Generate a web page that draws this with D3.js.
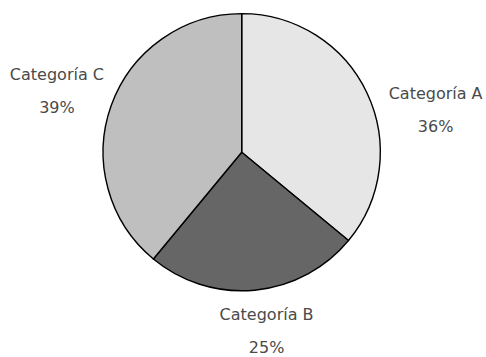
<!DOCTYPE html>
<html>
<head>
<meta charset="utf-8">
<script src="https://cdn.jsdelivr.net/npm/d3@7"></script>
<style>
  html, body { margin: 0; padding: 0; background: #ffffff; }
  svg { display: block; }
</style>
</head>
<body>
<script>
// ---- Data ----
const categories = ["Categoría A", "Categoría B", "Categoría C"];
const values = [36, 25, 39];
const percentLabels = ["36%", "25%", "39%"];
const colors = ["#e6e6e6", "#666666", "#bfbfbf"];

// ---- Layout ----
const width = 486, height = 357;
const cx = 241.7, cy = 152.2, radius = 138.6;
const labelRadius = 190;
const lineGap = 33;
// label placement adjustments (layout, in px)
const labelNudge = [[22, 38], [7, -11], [-6, 3]];

const svg = d3.select("body").append("svg")
  .attr("width", width).attr("height", height);

const g = svg.append("g").attr("transform", `translate(${cx},${cy})`);

const pie = d3.pie().sort(null).value(d => d.value);
const data = categories.map((c, i) => ({ cat: c, value: values[i], pct: percentLabels[i], color: colors[i], i }));
const arcs = pie(data);

const arc = d3.arc().innerRadius(0).outerRadius(radius);
const labelArc = d3.arc().innerRadius(labelRadius).outerRadius(labelRadius);

g.selectAll("path.slice").data(arcs).enter().append("path")
  .attr("class", "slice")
  .attr("d", arc)
  .attr("fill", d => d.data.color)
  .attr("stroke", "#000")
  .attr("stroke-width", 1.4)
  .attr("stroke-linejoin", "round");

const labels = g.selectAll("g.label").data(arcs).enter().append("g")
  .attr("class", "label")
  .attr("transform", d => {
    const [x, y] = labelArc.centroid(d);
    const n = labelNudge[d.data.i];
    return `translate(${x + n[0]},${y + n[1]})`;
  });

labels.append("text")
  .attr("text-anchor", "middle")
  .attr("y", -lineGap / 2 + 6)
  .attr("font-family", "DejaVu Sans")
  .attr("font-size", 16)
  .attr("fill", "#4a4a4a")
  .text(d => d.data.cat);

labels.append("text")
  .attr("text-anchor", "middle")
  .attr("y", lineGap / 2 + 6)
  .attr("font-family", "DejaVu Sans")
  .attr("font-size", 16)
  .attr("fill", "#4a4a4a")
  .text(d => d.data.pct);
</script>
</body>
</html>
